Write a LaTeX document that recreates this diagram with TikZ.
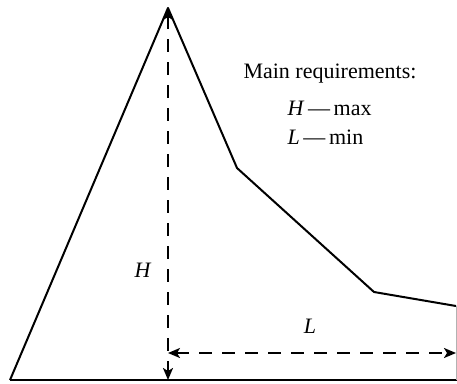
\documentclass[tikz,border=0pt]{standalone}
\usepackage{fontspec}
\setmainfont{Liberation Serif}
\usetikzlibrary{arrows.meta,positioning}
\tikzset{dim/.style={line width=2pt,dash pattern=on 13pt off 10pt,{Stealth[length=12pt,width=10pt,inset=3pt]}-{Stealth[length=12pt,width=10pt,inset=3pt]}}}
\begin{document}
\begin{tikzpicture}[x=1pt,y=-1pt,font=\fontsize{22}{26}\selectfont]
\useasboundingbox (0,0) rectangle (457,383);
\coordinate (apex) at (168,8);\coordinate (foot) at (10,380);\coordinate (bendA) at (237,168);
\coordinate (bendB) at (374,292);\coordinate (tail) at (456,306);\coordinate (baseR) at (457,380);
\coordinate (hbase) at (168,380);\coordinate (lleft) at (168,353);\coordinate (lright) at (456,353);
\draw[line width=2pt,line join=round] (foot)--(apex)--(bendA)--(bendB)--(tail);
\draw[line width=2pt] (foot)--(baseR);\draw[gray!60,line width=.6pt] (tail)--(tail|-baseR);
\draw[dim] (apex)--(hbase);\draw[dim] (lleft)--(lright);
\node (hlab) at (143,270){\textit{H}};\node (llab) at (310,326){\textit{L}};
\node[anchor=base] (req) at (330,78){Main requirements:};
\node[anchor=base west] (hmax) at (284,115){\textit{H}\,---\,max};
\node[anchor=base west] (lmin) at (284,144){\textit{L}\,---\,min};
\end{tikzpicture}
\end{document}
